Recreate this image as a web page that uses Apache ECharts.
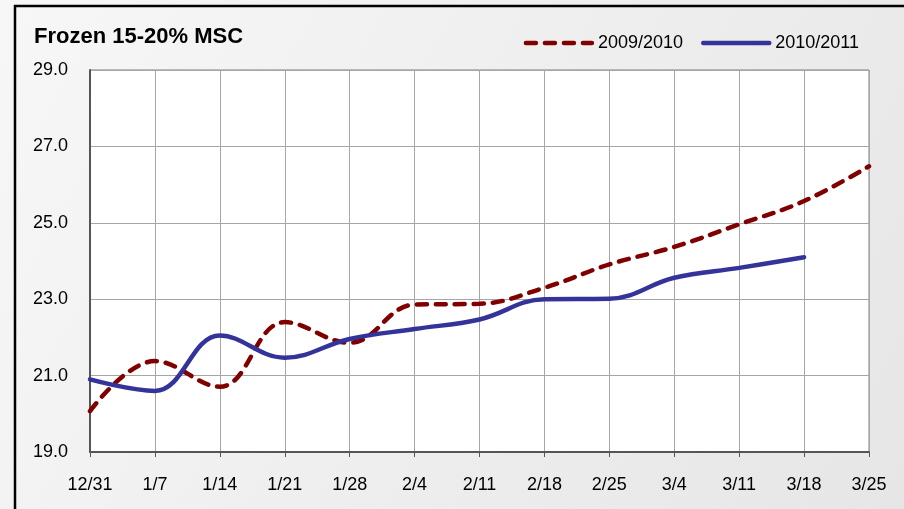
<!DOCTYPE html>
<html>
<head>
<meta charset="utf-8">
<script src="https://cdn.jsdelivr.net/npm/echarts@6/dist/echarts.min.js"></script>
<style>
  html, body { margin: 0; padding: 0; }
  #chart { width: 904px; height: 509px; }
</style>
</head>
<body>
<div id="chart"></div>
<script>
// week labels
const weeks = ["12/31", "1/7", "1/14", "1/21", "1/28", "2/4", "2/11", "2/18", "2/25", "3/4", "3/11", "3/18", "3/25"];
// prices per season
const season0910 = [20.07, 21.38, 20.71, 22.4, 21.86, 22.86, 22.88, 23.3, 23.91, 24.37, 24.96, 25.57, 26.48];
const season1011 = [20.9, 20.6, 22.05, 21.47, 21.96, 22.22, 22.47, 23.0, 23.01, 23.56, 23.82, 24.1, null];

let chart = echarts.init(document.getElementById("chart"));

let option = {
  animation: false,
  backgroundColor: {
    type: "linear", x: 0, y: 0, x2: 1, y2: 1,
    colorStops: [{ offset: 0, color: "#f7f7f7" }, { offset: 1, color: "#e6e6e6" }]
  },
  textStyle: { fontFamily: "Liberation Sans, Arial, sans-serif" },
  graphic: [{
    type: "rect",
    shape: { x: 15, y: 6, width: 900, height: 520 },
    style: { fill: "none", stroke: "#000", lineWidth: 2.5 },
    silent: true
  }],
  title: {
    text: "Frozen 15-20% MSC",
    left: 29,
    top: 21,
    textStyle: { fontSize: 22, fontWeight: "bold", color: "#000" }
  },
  legend: {
    right: 40,
    top: 29,
    itemWidth: 66,
    itemHeight: 14,
    itemGap: 18,
    itemStyle: { opacity: 0 },
    lineStyle: { width: 4.5 },
    textStyle: { fontSize: 18, color: "#000", padding: [0, 0, 0, 1] },
    data: ["2009/2010", "2010/2011"]
  },
  grid: {
    left: 90,
    right: 35,
    top: 70,
    bottom: 57,
    show: true,
    backgroundColor: "#fff",
    borderColor: "#808080",
    borderWidth: 1
  },
  xAxis: {
    type: "category",
    boundaryGap: false,
    data: weeks,
    axisLine: { lineStyle: { color: "#555", width: 2 } },
    axisTick: { show: true, length: 5, lineStyle: { color: "#555" } },
    axisLabel: { fontSize: 18, color: "#000", margin: 24 },
    splitLine: { show: true, lineStyle: { color: "#a6a6a6", width: 1 } }
  },
  yAxis: {
    type: "value",
    min: 19,
    max: 29,
    interval: 2,
    axisLine: { show: true, lineStyle: { color: "#555", width: 2 } },
    axisTick: { show: false },
    axisLabel: {
      fontSize: 18, color: "#000", margin: 22,
      formatter: (v) => v.toFixed(1)
    },
    splitLine: { show: true, lineStyle: { color: "#a6a6a6", width: 1 } }
  },
  series: [
    {
      name: "2009/2010",
      type: "line",
      data: season0910,
      smooth: 0.4,
      smoothConstraint: false,
      symbol: "none",
      color: "#800000",
      lineStyle: { color: "#800000", width: 4.5, type: [10, 9], cap: "round" }
    },
    {
      name: "2010/2011",
      type: "line",
      data: season1011,
      smooth: 0.4,
      smoothConstraint: false,
      symbol: "none",
      color: "#333399",
      lineStyle: { color: "#333399", width: 4.5, cap: "round" }
    }
  ]
};
chart.setOption(option);
</script>
</body>
</html>
